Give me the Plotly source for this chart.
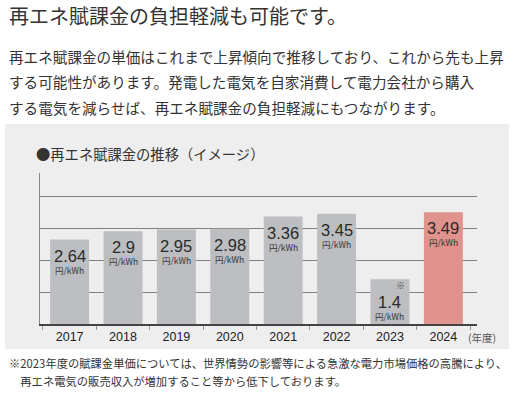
import plotly.graph_objects as go

# ---- data ----
years = ["2017", "2018", "2019", "2020", "2021", "2022", "2023", "2024"]
values = [2.64, 2.9, 2.95, 2.98, 3.36, 3.45, 1.4, 3.49]
value_labels = ["2.64", "2.9", "2.95", "2.98", "3.36", "3.45", "1.4", "3.49"]
notes = ["", "", "", "", "", "", "※", ""]
unit_label = "円/kWh"
year_unit = "(年度)"

title = "再エネ賦課金の負担軽減も可能です。"
body_lines = [
    "再エネ賦課金の単価はこれまで上昇傾向で推移しており、これから先も上昇",
    "する可能性があります。発電した電気を自家消費して電力会社から購入",
    "する電気を減らせば、再エネ賦課金の負担軽減にもつながります。",
]
chart_title = "●再エネ賦課金の推移（イメージ）"
footnotes = [
    "※2023年度の賦課金単価については、世界情勢の影響等による急激な電力市場価格の高騰により、",
    "　再エネ電気の販売収入が増加すること等から低下しております。",
]

# ---- style ----
W, H = 517, 397
L, R, T, B = 40, 40, 173, 73
PW, PH = W - L - R, H - T - B
GRAY = "#BDBEC1"
PINK = "#E0928C"
colors = [PINK if y == "2024" else GRAY for y in years]
JP = "Noto Sans CJK JP, Noto Sans CJK SC, sans-serif"
NUM = "Liberation Sans, Arial, sans-serif"


def px(x):
    return (x - L) / PW


def py(y):
    return (H - B - y) / PH


fig = go.Figure()
fig.add_trace(go.Bar(x=years, y=values, marker=dict(color=colors, line=dict(width=0)),
                     hoverinfo="skip"))

ann = []
for i, (v, lab, note) in enumerate(zip(values, value_labels, notes)):
    extra = 7 if note else 0
    ann.append(dict(x=i, y=v, xref="x", yref="y", text=lab, showarrow=False,
                    yanchor="middle", yshift=-(16 + extra),
                    font=dict(family=NUM, size=16.5, color="#2a2a2a")))
    ann.append(dict(x=i, y=v, xref="x", yref="y", text=unit_label, showarrow=False,
                    yanchor="middle", yshift=-(30 + extra),
                    font=dict(family=JP, size=8.5, color="#333")))
    if note:
        ann.append(dict(x=i, y=v, xref="x", yref="y", text=note, showarrow=False,
                        yanchor="middle", yshift=-6, xshift=11, borderpad=0,
                        font=dict(family=JP, size=9, color="#444")))

# texts
ann.append(dict(x=px(7), y=py(16), xref="paper", yref="paper", text=title, showarrow=False,
                xanchor="left", yanchor="middle", font=dict(family=JP, size=20, color="#333")))
for i, line in enumerate(body_lines):
    ann.append(dict(x=px(7), y=py(56 + 25.5 * i), xref="paper", yref="paper", text=line,
                    showarrow=False, xanchor="left", yanchor="middle",
                    font=dict(family=JP, size=14.6, color="#333")))
ann.append(dict(x=px(34), y=py(153), xref="paper", yref="paper", text=chart_title,
                showarrow=False, xanchor="left", yanchor="middle",
                font=dict(family=JP, size=14.3, color="#333")))
ann.append(dict(x=px(466), y=py(337), xref="paper", yref="paper", text=year_unit,
                showarrow=False, xanchor="left", yanchor="middle",
                font=dict(family=JP, size=10.5, color="#555")))
for i, line in enumerate(footnotes):
    ann.append(dict(x=px(7), y=py(363 + 18 * i), xref="paper", yref="paper", text=line,
                    showarrow=False, xanchor="left", yanchor="middle",
                    font=dict(family=JP, size=11.3, color="#333")))

shapes = [dict(type="rect", xref="paper", yref="paper", x0=px(5), x1=px(509),
               y0=py(349), y1=py(124), fillcolor="#EEEEEE", line=dict(width=0), layer="below")]

fig.update_layout(
    width=W, height=H, margin=dict(l=L, r=R, t=T, b=B, autoexpand=False),
    paper_bgcolor="white", plot_bgcolor="rgba(0,0,0,0)",
    showlegend=False, bargap=0.27,
    annotations=ann, shapes=shapes,
    xaxis=dict(type="category", range=[-0.555, 7.63], showline=True, linecolor="#444",
               linewidth=1.5, ticks="outside", tickson="boundaries", ticklen=4,
               tickcolor="#999", tickwidth=1, showgrid=False, automargin=False,
               tickfont=dict(family=NUM, size=12.5, color="#222"), fixedrange=True),
    yaxis=dict(range=[0, 4.72], dtick=1, showgrid=True, gridcolor="#808080", gridwidth=1,
               showline=True, linecolor="#888", linewidth=1, showticklabels=False,
               ticks="", zeroline=False, fixedrange=True, automargin=False),
)

fig.write_html("out.html", config={"displayModeBar": False},
               post_script="document.body.style.margin='0';document.body.style.padding='0';")
